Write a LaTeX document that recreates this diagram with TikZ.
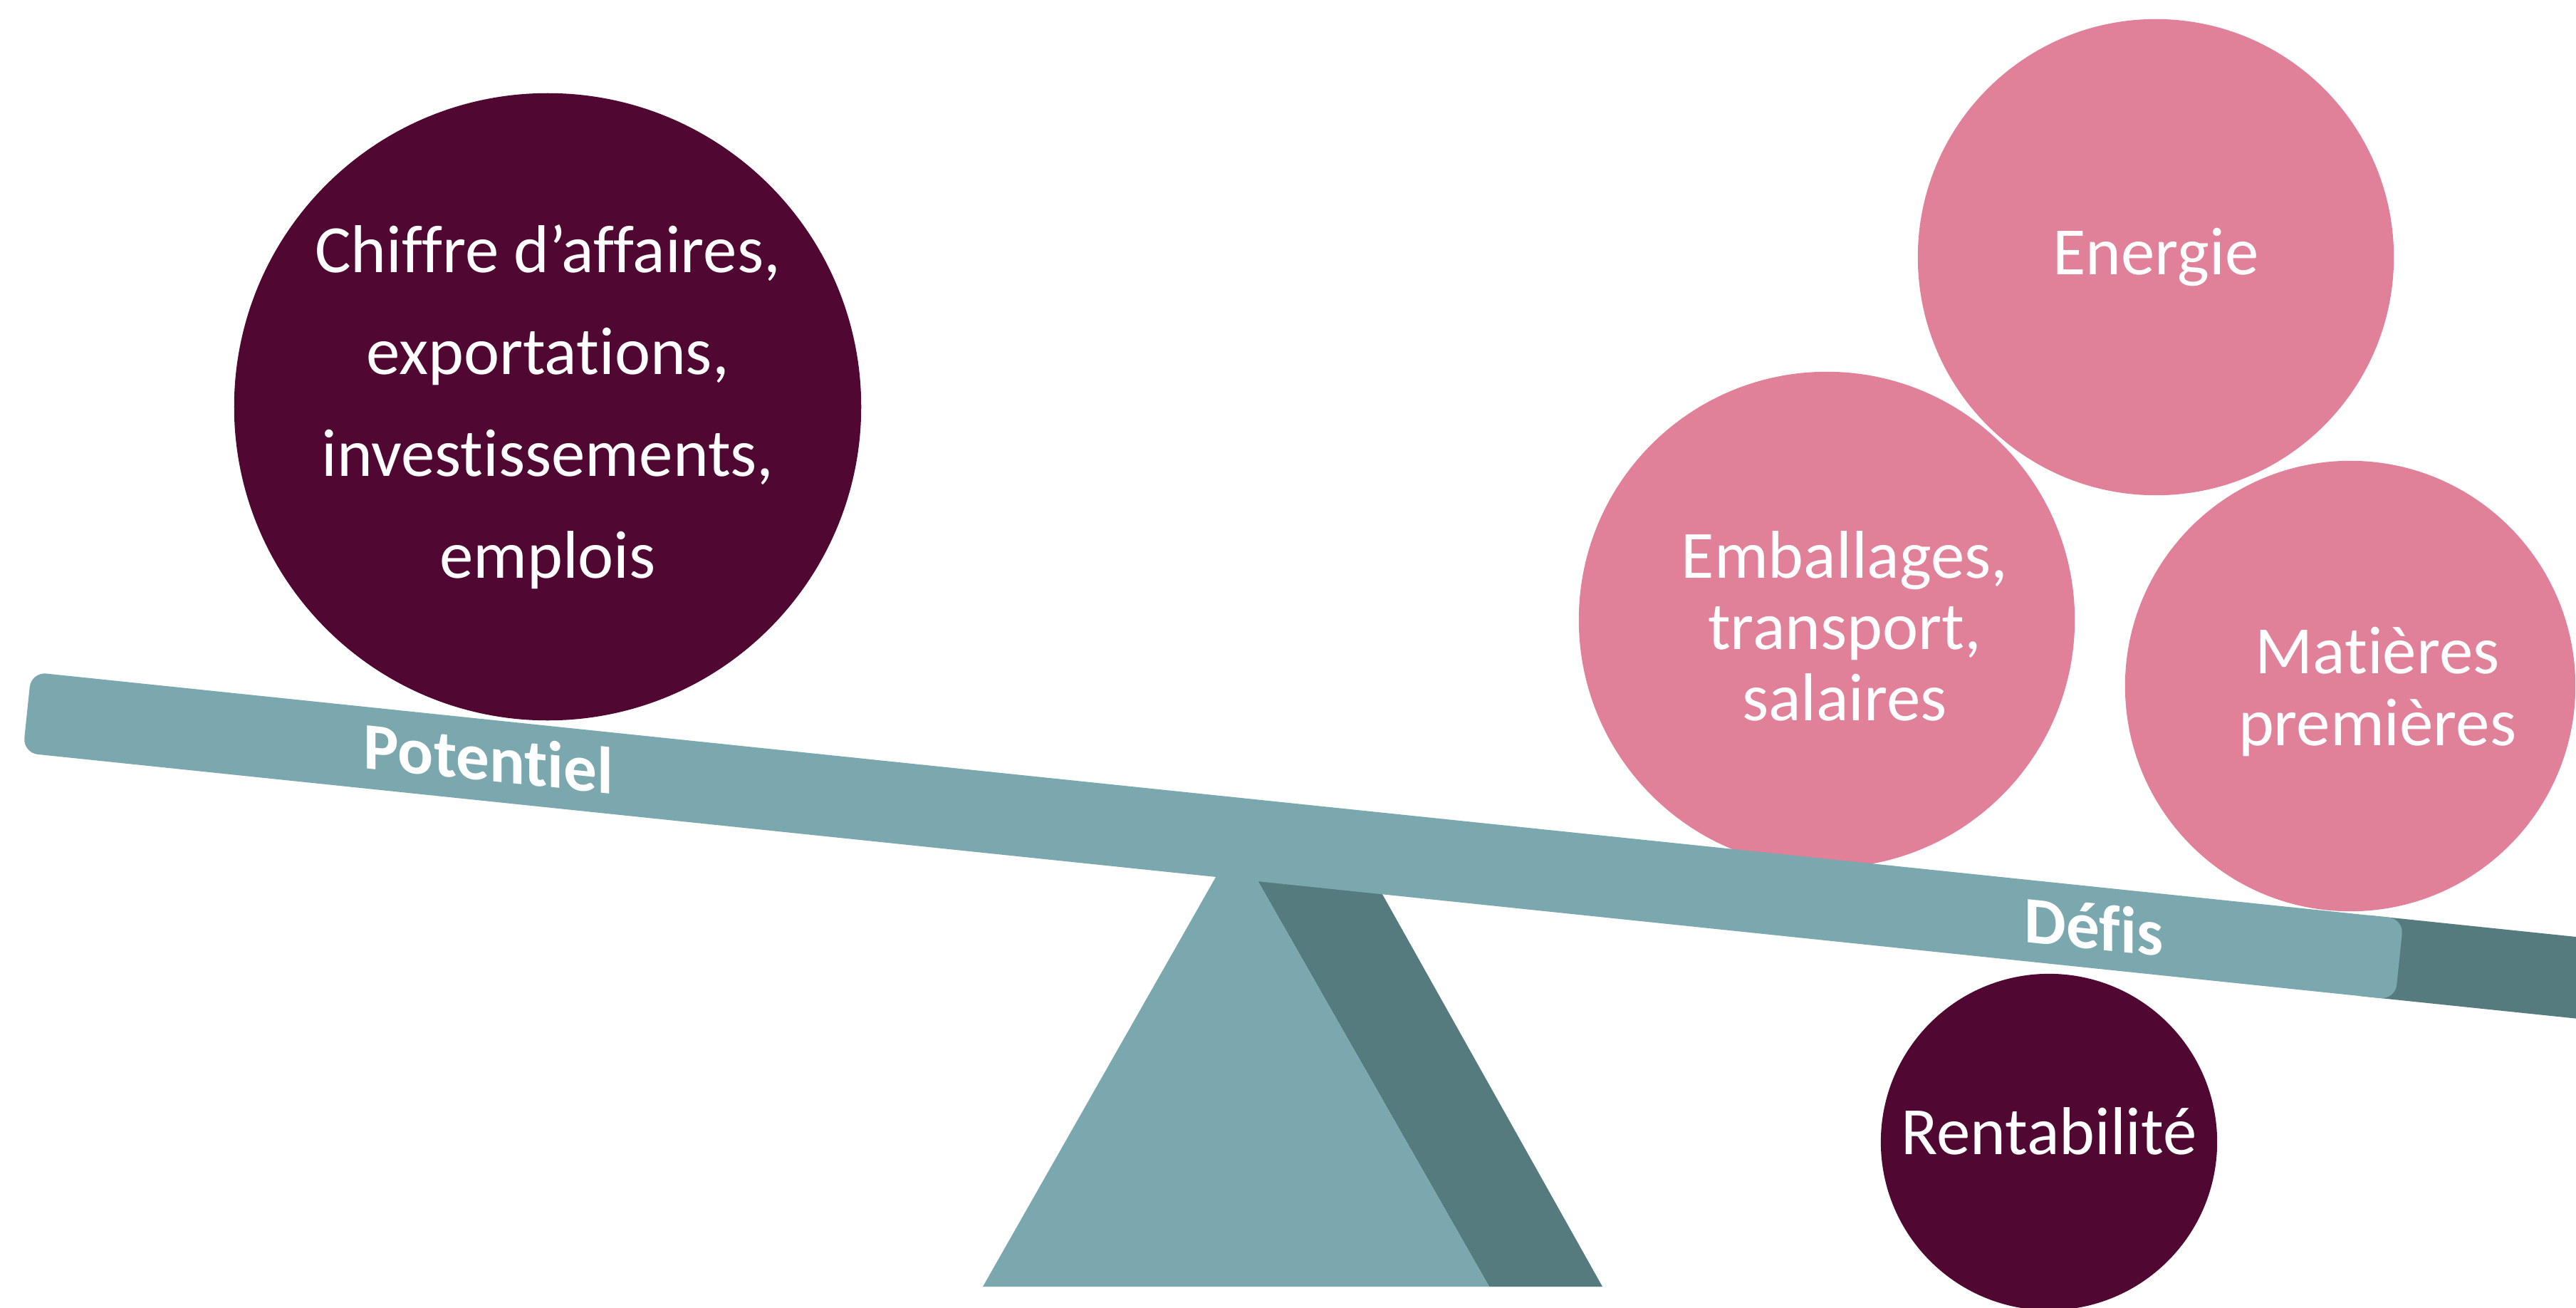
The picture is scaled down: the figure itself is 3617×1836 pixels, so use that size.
\documentclass[tikz,border=0pt]{standalone}
\usepackage{fontspec}
\setmainfont{Carlito}[BoldFont={Carlito Bold}, ItalicFont={Carlito Italic}, Ligatures={TeX,NoCommon}]
\usepackage{tikz}
\usetikzlibrary{positioning}
\definecolor{wine}{RGB}{80,8,50}
\definecolor{rose}{RGB}{224,128,153}
\definecolor{teallight}{RGB}{123,167,174}
\definecolor{tealdark}{RGB}{86,123,126}
\tikzstyle{ball} = [circle, inner sep=0pt, draw=none]
\tikzstyle{gain} = [ball, fill=wine]
\tikzstyle{cost} = [ball, fill=rose]
\tikzstyle{word} = [text=white, align=center, inner sep=0pt, font=\fontsize{27}{28.5}\selectfont]
\tikzstyle{caption} = [text=white, inner sep=0pt, yslant=-0.104, font=\bfseries\fontsize{26.5}{30}\selectfont]
\tikzstyle{bar} = [fill=teallight, rounded corners=6pt]

\begin{document}
\begin{tikzpicture}[x=0.01cm, y=-0.01cm]
    \useasboundingbox (0,0) rectangle (3617,1836);
    \clip (0,0) rectangle (3617,1836);

    % pivot
    \fill [tealdark] (1735,1182) -- (1910,1200) -- (2250,1806) -- (2091,1806) -- cycle;
    \fill [teallight] (1380,1806) -- (1735,1182) -- (2091,1806) -- cycle;

    % weights
    \node (turnover) [gain, minimum size=8.8cm] at (769,571) {};
    \node (energy) [cost, minimum size=6.68cm] at (3027,361) {};
    \node (packaging) [cost, minimum size=6.96cm] at (2565,870) {};
    \node (materials) [cost, minimum size=6.32cm] at (3300,963) {};
    \node (profit) [gain, minimum size=4.72cm] at (2877,1603) {};

    % beam
    \begin{scope}[shift={(38,1000)}, rotate=-5.94]
        \fill [tealdark] (3300,-57) rectangle (3800,57);
        \fill [bar] (0,-57) rectangle (3349,57);
    \end{scope}
    \node (potential) [caption] at (686,1064) {Potentiel};
    \node (challenges) [caption] at (2940,1300) {Défis};

    \node (turnover text) [word, font=\fontsize{27}{40.7}\selectfont] at (turnover) {Chiffre d’affaires,\\ exportations,\\ investissements,\\ emplois};
    \node (energy text) [word] at (energy) {Energie};
    \node (packaging text) [word, xshift=0.25cm, yshift=-0.09cm] at (packaging) {Emballages,\\ transport,\\ salaires};
    \node (materials text) [word, xshift=0.38cm, yshift=-0.08cm] at (materials) {Matières\\ premières};
    \node (profit text) [word, yshift=0.15cm] at (profit) {Rentabilité};
\end{tikzpicture}
\end{document}
